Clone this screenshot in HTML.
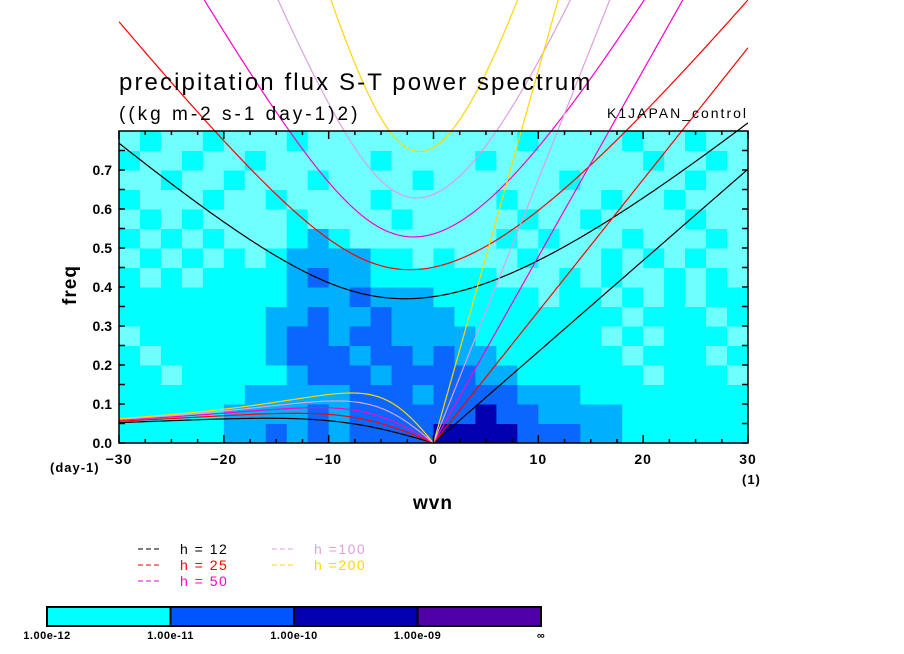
<!DOCTYPE html>
<html><head><meta charset="utf-8">
<style>
html,body{margin:0;padding:0;background:#fff;}
svg{display:block;font-family:"Liberation Sans",sans-serif;}
</style></head>
<body>
<svg id="chart" width="904" height="654" viewBox="0 0 904 654" xmlns="http://www.w3.org/2000/svg">
<defs><clipPath id="plotclip"><rect x="119" y="131" width="629" height="312"/></clipPath>
<clipPath id="curveclip"><rect x="119" y="0" width="629" height="443"/></clipPath></defs>
<g id="heat" clip-path="url(#plotclip)"></g>
<g id="curves"></g>
<g id="axes"></g>
<text x="119" y="90" font-size="24" letter-spacing="2.1" fill="#000">precipitation flux S-T power spectrum</text>
<text x="119" y="120" font-size="19" letter-spacing="3" fill="#000">((kg m-2 s-1 day-1)2)</text>
<text x="748" y="118" font-size="14" letter-spacing="2" text-anchor="end" fill="#000">K1JAPAN_control</text>
<text x="0" y="0" font-size="19" font-weight="bold" letter-spacing="1" transform="translate(76,285) rotate(-90)" text-anchor="middle">freq</text>
<text x="433" y="509" font-size="19" font-weight="bold" letter-spacing="1" text-anchor="middle">wvn</text>
<text x="50" y="472" font-size="13" font-weight="bold" letter-spacing="1">(day-1)</text>
<text x="742" y="484" font-size="13" font-weight="bold" letter-spacing="1">(1)</text>
<g id="legend"></g>
<g id="cbar"></g>
</svg>
<script>
const NS="http://www.w3.org/2000/svg";
const depths=[12,25,50,100,200];
const depthColors=["#000000","#ff0000","#ff00c8","#dda0dd","#ffd700"];
const xTicks=[-30,-20,-10,0,10,20,30];
const yTicks=[0,0.1,0.2,0.3,0.4,0.5,0.6,0.7];
const yTickLabels=["0.0","0.1","0.2","0.3","0.4","0.5","0.6","0.7"];
const levelColors=["#70ffff","#00ffff","#00b0ff","#0a66ff","#0000b0"];
const heatRows=[
"111112232323333444433322111111",
"111112222323333334332222111111",
"111111222223332333322211111111",
"110111112333233332211111101110",
"101111123332332322111111011101",
"011111123323322221111110101110",
"111111122322322211111111011101",
"111111112223222111110110101011",
"101011112322111111000101001010",
"010101012222110100010001010100",
"101010001210000000101000100010",
"010100001000010000010010000100",
"100010010000100000100001001000",
"001001000100001000000100000100",
"100100100000100001000000010010",
"010010001000000000010000100100"];
const cbarLabels=["1.00e-12","1.00e-11","1.00e-10","1.00e-09","\u221e"];
const cbarColors=["#00ffff","#0055ff","#0000b0","#5000a8"];

const X0=119,X1=748,Y0=443,YPER=390;
const xs=w=>X0+(w+30)/60*(X1-X0);
const ys=f=>Y0-f*YPER;
function el(tag,attrs,parent){const e=document.createElementNS(NS,tag);for(const k in attrs)e.setAttribute(k,attrs[k]);parent.appendChild(e);return e;}

const heat=document.getElementById('heat');
heatRows.forEach((row,r)=>{for(let c=0;c<row.length;c++){
 const lv=+row[c];const w0=-30+2*c,f0=0.05*r;
 const rc=el('rect',{x:xs(w0),y:ys(f0+0.05),width:xs(w0+2)-xs(w0)+0.5,height:ys(f0)-ys(f0+0.05)+0.5,fill:levelColors[lv]},heat);
 
 
}});

const g=9.8,beta=2.289e-11,a=6.371e6,cpd=86400/(2*Math.PI);
const curves=document.getElementById('curves');
function root(A,B,w0){let w=w0;for(let i=0;i<60;i++){const f=w*w*w-A*w-B,d=3*w*w-A;w-=f/d;}return w;}
function poly(pts,color,name){
 const p=el('polyline',{points:pts.map(q=>q.join(',')).join(' '),fill:'none',stroke:color,'stroke-width':1.2,'clip-path':'url(#curveclip)'},curves);
 
 
}
depths.forEach((h,i)=>{
 const c=Math.sqrt(g*h),col=depthColors[i];
 const ig=[],er=[],kv=[];
 for(let wn=-30;wn<=30.001;wn+=0.25){
  const k=wn/a,A=c*c*k*k+3*beta*c,B=beta*c*c*k;
  ig.push([xs(wn),ys(root(A,B,Math.sqrt(A)*1.1)*cpd)]);
  if(wn<=0){er.push([xs(wn),Math.min(Y0,ys(root(A,B,0)*cpd))]);}
  else kv.push([xs(wn),ys(c*k*cpd)]);
 }
 kv.unshift([xs(0),ys(0)]);
 poly(ig,col,'ig-curve-h'+h);poly(er,col,'er-curve-h'+h);poly(kv,col,'kelvin-curve-h'+h);
});

const ax=document.getElementById('axes');
const fr=el('rect',{x:X0,y:131,width:X1-X0,height:Y0-131,fill:'none',stroke:'#000','stroke-width':1.5},ax);


for(let w=-30;w<=30;w+=2.5){const maj=xTicks.includes(w);
 el('line',{x1:xs(w),x2:xs(w),y1:Y0,y2:Y0-(maj?8:4),stroke:'#000','stroke-width':1.5},ax);
 el('line',{x1:xs(w),x2:xs(w),y1:131,y2:131+(maj?8:4),stroke:'#000','stroke-width':1.5},ax);}
for(let f=0;f<=0.8;f+=0.05){
 el('line',{x1:X0,x2:X0+6,y1:ys(f),y2:ys(f),stroke:'#000','stroke-width':1.5},ax);
 el('line',{x1:X1,x2:X1-6,y1:ys(f),y2:ys(f),stroke:'#000','stroke-width':1.5},ax);}
xTicks.forEach(w=>{const t=el('text',{x:xs(w),y:464,'font-size':14,'font-weight':'bold','letter-spacing':1,'text-anchor':'middle'},ax);t.textContent=(w<0?'\u2212'+(-w):w);
 
 });
yTicks.forEach((f,i)=>{const t=el('text',{x:112,y:ys(f)+5,'font-size':14,'font-weight':'bold','text-anchor':'end'},ax);t.textContent=yTickLabels[i];
 
 });

const lg=document.getElementById('legend');
const lpos=[[138,549],[138,565],[138,581],[272,549],[272,565]];
depths.forEach((h,i)=>{const [x,y]=lpos[i];
 const l=el('line',{x1:x,x2:x+22,y1:y,y2:y,stroke:depthColors[i],'stroke-width':1,'stroke-dasharray':'5,3'},lg);
 
 
 const t=el('text',{x:x+42,y:y+5,'font-size':14,'letter-spacing':1.5,fill:depthColors[i]},lg);
 t.textContent=h<100?'h = '+h:'h ='+h;
 
 });

const cb=document.getElementById('cbar');
const cw=(541-47)/4;
cbarColors.forEach((c,i)=>{const r=el('rect',{x:47+i*cw,y:607,width:cw,height:19,fill:c,stroke:'#000','stroke-width':2},cb);
 
 });
cbarLabels.forEach((s,i)=>{const t=el('text',{x:47+i*cw,y:639,'font-size':11,'font-weight':'bold','letter-spacing':0.5,'text-anchor':'middle'},cb);t.textContent=s;
 
 });
</script>
</body></html>
